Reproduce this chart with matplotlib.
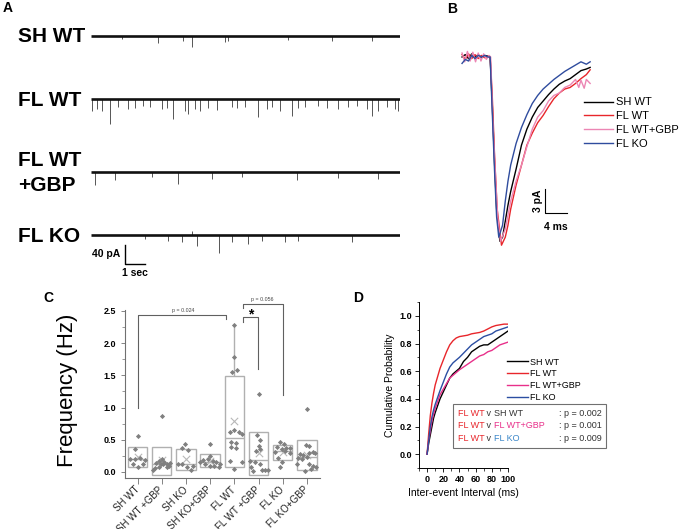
import numpy as np
import matplotlib
matplotlib.use("Agg")
import matplotlib.pyplot as plt
from matplotlib.offsetbox import TextArea, HPacker, VPacker, AnchoredOffsetbox

plt.rcParams['font.family'] = ['Liberation Sans', 'DejaVu Sans']

W, H = 688, 529

# ---------------- data ----------------
# panel A: event times (s) and amplitudes (pA)
trace_names = ['SH WT', 'FL WT', 'FL WT\n+GBP', 'FL KO']
sh_wt_t = [1.53, 3.37, 4.62, 5.03, 6.7, 6.87, 9.87, 12.03, 14.03]
sh_wt_amp = [7, 14, 9.8, 22.5, 11.9, 9.8, 8.4, 9.8, 9.8]
fl_wt_t = [0.03, 0.28, 0.53, 0.95, 1.37, 1.87, 2.2, 2.62, 2.95, 3.53, 3.78, 4.12, 4.7,
           4.87, 5.2, 5.45, 5.87, 6.28, 7.03, 7.28, 7.7, 8.37, 8.78, 9.03, 9.45, 10.03,
           10.37, 10.7, 11.37, 11.78, 12.37, 12.87, 13.28, 13.78, 14.03, 14.37, 14.78,
           15.2, 15.37]
fl_wt_amp = [24.6, 21, 24.6, 52.6, 17.5, 21, 19.6, 15.4, 17.5, 21, 19.6, 42, 24.6,
             31.6, 21, 24.6, 19.6, 22.5, 17.5, 19.6, 17.5, 38.6, 21, 17.5, 24.6, 35,
             19.6, 17.5, 15.4, 19.6, 21, 17.5, 15.4, 21, 35, 24.6, 17.5, 21, 24.6]
fl_gbp_t = [0.2, 1.2, 3.03, 4.37, 6.03, 7.53, 10.28, 12.37, 14.37]
fl_gbp_amp = [28, 16.8, 9.8, 24.6, 14, 9.8, 16.8, 11.9, 15.4]
fl_ko_t = [2.7, 3.87, 4.53, 5.03, 5.28, 6.4, 7.03, 7.87, 8.53, 9.7, 10.37, 13.03]
fl_ko_amp = [8.4, 11.9, 15.4, -9.1, 22.5, 38.6, 15.4, 19, 11.9, 15.4, 11.9, 15.4]
trace_events = [(sh_wt_t, sh_wt_amp), (fl_wt_t, fl_wt_amp),
                (fl_gbp_t, fl_gbp_amp), (fl_ko_t, fl_ko_amp)]

# panel B: averaged events (ms, pA)
b_sh_t = [0, 0.6, 1.2, 1.8, 2.4, 3.0, 3.6, 4.2, 4.8, 5.2, 5.6, 6.0, 6.4, 7.0, 7.5, 8, 8.5, 9,
          10, 11, 12, 13, 14, 15, 16, 17, 18, 19, 20, 21, 22, 23, 23.7]
b_sh = [0, 0.3, -0.2, 0.4, 0, 0.3, -0.1, 0.2, 0.1, 0, -6, -13, -19, -23, -22.5, -20.5, -18.5,
        -16.8, -14, -11, -9, -7.5, -6.3, -5.5, -4.7, -4.0, -3.4, -3.0, -2.7, -2.2, -1.7,
        -1.5, -1.3]
b_fl_t = [0, 0.6, 1.2, 1.8, 2.4, 3.0, 3.6, 4.2, 4.8, 5.2, 5.6, 6.0, 6.5, 7.3, 8, 8.5, 9, 10,
          11, 12, 13, 14, 15, 16, 17, 18, 19, 20, 21, 22, 23, 23.7]
b_fl = [0.3, -0.3, 0.4, -0.2, 0.3, -0.2, 0.2, -0.1, 0.1, 0, -5, -12, -19, -23.5, -22.5, -21,
        -19, -16, -13.5, -11, -9.5, -8.2, -7.3, -6.2, -5.2, -4.5, -4.0, -3.8, -3.3, -2.7,
        -2.2, -1.6]
b_gbp_t = [0, 0.5, 1.0, 1.5, 2.0, 2.5, 3.0, 3.5, 4.0, 4.5, 5.0, 5.3, 5.7, 6.2, 6.6, 7.1, 8, 9,
           10, 11, 12, 13, 14, 15, 16, 17, 18, 19, 20, 21, 21.6, 22, 22.6, 23, 23.7]
b_gbp = [0.5, -0.6, 0.7, -0.5, 0.6, -0.6, 0.5, -0.5, 0.4, -0.3, 0.2, 0, -8, -15, -20, -23,
         -21.5, -18, -15.5, -13.5, -11.2, -9, -7.5, -6.7, -5.5, -4.8, -4.5, -3.8, -3.5, -2.8,
         -3.8, -2.9, -3.9, -2.8, -3.3]
b_ko_t = [0, 0.6, 1.2, 1.8, 2.4, 3.0, 3.6, 4.2, 4.8, 5.2, 5.6, 6.0, 6.4, 6.8, 7.5, 8, 8.5, 9,
          10, 11, 12, 13, 14, 15, 16, 17, 18, 19, 20, 21, 22, 23, 23.7]
b_ko = [-0.8, -0.3, -0.5, 0.2, -0.2, 0.2, 0, 0.2, 0, 0, -7, -14, -20, -22.5, -21, -18, -15.5,
        -13.5, -10.8, -8.8, -7.2, -5.8, -4.8, -4.0, -3.4, -2.8, -2.3, -1.8, -1.4, -1.0, -0.6,
        -0.9, -0.6]

# panel C: frequency (Hz)
groups = ['SH WT', 'SH WT +GBP', 'SH KO', 'SH KO+GBP', 'FL WT', 'FL WT +GBP', 'FL KO', 'FL KO+GBP']
freq = [
    [0.56, 0.35, 0.20, 0.20, 0.21, 0.19, 0.13, 0.12, 0.07],
    [0.87, 0.2, 0.17, 0.16, 0.14, 0.13, 0.12, 0.12, 0.1, 0.08, 0.07, 0.06, 0.03, 0.14],
    [0.44, 0.37, 0.34, 0.13, 0.13, 0.07, 0.03, 0.09],
    [0.43, 0.25, 0.2, 0.18, 0.17, 0.16, 0.15, 0.13, 0.1, 0.09, 0.08, 0.12],
    [2.28, 1.78, 1.58, 1.55, 0.65, 0.62, 0.62, 0.59, 0.46, 0.45, 0.38, 0.37, 0.17, 0.15, 0.04],
    [1.21, 0.57, 0.49, 0.41, 0.36, 0.33, 0.17, 0.15, 0.12, 0.07, 0.03, 0.03, 0.03, 0.02],
    [0.46, 0.44, 0.38, 0.37, 0.37, 0.36, 0.33, 0.31, 0.30, 0.22, 0.15, 0.08],
    [0.98, 0.42, 0.40, 0.31, 0.30, 0.29, 0.28, 0.26, 0.24, 0.21, 0.20, 0.13, 0.12, 0.10, 0.07,
     0.04, 0.02],
]
jitter = [
    [0, -0.1, -0.3, -0.1, 0.12, 0.32, -0.2, 0.22, 0.0],
    [0, 0, -0.12, 0.1, -0.25, 0.05, 0.2, -0.05, 0.3, 0.22, -0.1, -0.3, -0.38, 0.36],
    [-0.03, -0.15, 0.1, -0.35, -0.15, 0.05, 0.2, 0.3],
    [0, 0, -0.1, -0.3, 0.12, 0.25, -0.4, -0.2, 0.0, 0.15, 0.35, 0.4],
    [0, 0, 0.1, -0.1, 0, -0.2, 0.2, 0.33, -0.15, 0.05, -0.15, 0.05, -0.2, 0.3, 0],
    [0, -0.05, 0.05, 0, 0.05, -0.12, -0.35, -0.15, 0.08, -0.3, 0.15, 0.27, 0.38, -0.25],
    [-0.1, 0.05, -0.25, 0.15, 0.3, -0.05, 0.1, -0.3, 0.3, -0.2, -0.02, -0.1],
    [0, -0.05, 0.1, 0.25, 0.1, 0.35, -0.3, -0.15, 0.0, -0.35, -0.2, -0.4, 0.08, 0.25, 0.38,
     0.15, -0.1],
]
box_lo = [0.07, -0.05, 0.03, 0.08, 0.08, -0.04, 0.18, 0.03]
box_hi = [0.385, 0.385, 0.355, 0.275, 1.485, 0.62, 0.42, 0.5]
box_med = [0.2, 0.13, 0.12, 0.16, 0.535, 0.18, 0.33, 0.235]
box_mean = [0.23, 0.18, 0.2, 0.17, 0.79, 0.29, 0.31, 0.27]

# panel D: cumulative probability vs inter-event interval (ms)
d_t = [0, 2, 4, 6, 8, 10, 13, 16, 20, 24, 28, 32, 36, 40, 45, 50, 55, 60, 65, 70, 75, 80,
       85, 90, 95, 100]
d_sh = [0, 0.08, 0.14, 0.2, 0.26, 0.3, 0.35, 0.40, 0.45, 0.50, 0.55, 0.58, 0.60, 0.62, 0.67,
        0.70, 0.74, 0.76, 0.78, 0.79, 0.79, 0.81, 0.83, 0.85, 0.87, 0.89]
d_fl = [0, 0.15, 0.28, 0.37, 0.44, 0.50, 0.56, 0.62, 0.68, 0.74, 0.79, 0.82, 0.84, 0.85, 0.855,
        0.86, 0.87, 0.875, 0.88, 0.89, 0.905, 0.92, 0.93, 0.935, 0.94, 0.94]
d_gbp = [0, 0.1, 0.17, 0.24, 0.29, 0.33, 0.38, 0.43, 0.47, 0.51, 0.55, 0.57, 0.59, 0.61, 0.63,
         0.65, 0.67, 0.69, 0.71, 0.72, 0.74, 0.75, 0.77, 0.79, 0.80, 0.81]
d_ko = [0, 0.1, 0.2, 0.27, 0.32, 0.36, 0.41, 0.46, 0.52, 0.58, 0.63, 0.66, 0.68, 0.70, 0.73,
        0.76, 0.79, 0.81, 0.83, 0.85, 0.86, 0.87, 0.89, 0.90, 0.91, 0.92]
p_rows = [
    ([('FL WT', '#e8262b'), (' v ', '#333333'), ('SH WT', '#333333')], ': p = 0.002'),
    ([('FL WT', '#e8262b'), (' v ', '#333333'), ('FL WT+GBP', '#e8308a')], ': p = 0.001'),
    ([('FL WT', '#e8262b'), (' v ', '#333333'), ('FL KO', '#3a86c8')], ': p = 0.009'),
]


def rect(x0, y0, x1, y1):
    return [x0 / W, 1 - y1 / H, (x1 - x0) / W, (y1 - y0) / H]


fig = plt.figure(figsize=(W / 100, H / 100), dpi=100)

# panel letters
for letter, x, y in [('A', 3, 8), ('B', 447, 9), ('C', 43, 298), ('D', 353, 298)]:
    fig.text(x / W, 1 - y / H, letter, fontsize=10, fontweight='bold', va='center')

# ---------------- panel A ----------------
bases = [36, 99, 172, 235]
px_per_pa = 0.475
for name, base, (ev_t, ev_a) in zip(trace_names, bases, trace_events):
    ax = fig.add_axes(rect(91, base - 20, 400, base + 40))
    ax.set_xlim(0, 15.45)
    ax.set_ylim(-40 / px_per_pa, 20 / px_per_pa)
    ax.axis('off')
    ax.vlines(ev_t, 0, -np.array(ev_a), color='#555555', lw=0.7)
    ax.plot([0, 15.45], [0, 0], color='#111111', lw=1.9, solid_capstyle='butt')
    fig.text(18 / W, 1 - (base + 1) / H, name, fontsize=15, fontweight='bold',
             va='center', linespacing=1.45)
    if name == 'FL KO':
        # scale bar 40 pA / 1 sec
        ax.plot([1.7, 1.7, 2.7], [-21, -61, -61], color='black', lw=1, clip_on=False)
        ax.text(1.45, -40, '40 pA', ha='right', va='center', fontsize=7.5, fontweight='bold')
        ax.text(2.2, -69, '1 sec', ha='center', va='top', fontsize=7.5, fontweight='bold',
                clip_on=False)

# ---------------- panel B ----------------
axb = fig.add_axes(rect(455, 45, 595, 250))
axb.set_xlim(-1.3, 24.6)
axb.set_ylim(-24.1, 1.5)
axb.axis('off')
axb.plot(b_sh_t, b_sh, color='black', lw=1, label='SH WT')
axb.plot(b_fl_t, b_fl, color='#e8262b', lw=1, label='FL WT')
axb.plot(b_gbp_t, b_gbp, color='#ec86b4', lw=1, label='FL WT+GBP')
axb.plot(b_ko_t, b_ko, color='#2f4c9e', lw=1, label='FL KO')
axb.plot([15.4, 15.4, 19.4], [-16.5, -19.5, -19.5], color='black', lw=0.8)
axb.text(14.9, -18, '3 pA', rotation=90, ha='right', va='center', fontsize=7.5,
         fontweight='bold')
axb.text(17.4, -20.6, '4 ms', ha='center', va='top', fontsize=7.5, fontweight='bold')
fig.legend(*axb.get_legend_handles_labels(), loc='upper left',
           bbox_to_anchor=(580 / W, 1 - 93 / H), frameon=False, fontsize=8,
           handlelength=2.6, handletextpad=0.2, labelspacing=0.35, borderaxespad=0)

# ---------------- panel C ----------------
axc = fig.add_axes(rect(125, 309.7, 320, 478.4))
pos = np.arange(1, len(groups) + 1)
grey = '#b0b0b0'
axc.bar(pos, np.array(box_hi) - np.array(box_lo), bottom=box_lo, width=0.8, fill=False,
        edgecolor=grey, lw=1, zorder=2)
axc.hlines(box_med, pos - 0.4, pos + 0.4, color=grey, lw=1, zorder=2)
axc.vlines(pos[4], box_hi[4], max(freq[4]), color=grey, lw=1, zorder=2)
axc.scatter(pos, box_mean, marker='x', s=28, color='#b8b8b8', lw=0.8, zorder=3)
for i in range(len(groups)):
    axc.scatter(pos[i] + np.array(jitter[i]), freq[i], marker='D', s=7, color='#808080',
                lw=0, zorder=4)
axc.set_xlim(0.48, 8.54)
axc.set_ylim(-0.1, 2.52)
axc.set_yticks([0, 0.5, 1.0, 1.5, 2.0, 2.5])
axc.set_yticks(np.arange(0, 2.6, 0.25), minor=True)
axc.yaxis.set_major_formatter(plt.FuncFormatter(lambda v, _: f'{v:.1f}'))
axc.set_xticks(pos)
axc.set_xticklabels(groups, rotation=45, ha='right', va='center', rotation_mode='anchor',
                    fontsize=7, color='#222222')
for lab in axc.get_yticklabels():
    lab.set_fontweight('bold')
axc.tick_params(axis='y', labelsize=6.5, length=3, width=0.6, color='#707070')
axc.tick_params(axis='y', which='minor', length=2, width=0.5, color='#707070')
axc.tick_params(axis='x', length=4, width=0.6, color='#707070', pad=3)
for s in ['top', 'right']:
    axc.spines[s].set_visible(False)
for s in ['left', 'bottom']:
    axc.spines[s].set_color('#707070')
    axc.spines[s].set_linewidth(0.8)
fig.text(68 / W, 1 - 390 / H, 'Frequency (Hz)', rotation=90, fontsize=16, ha='center',
         va='center')
# significance brackets
bk = dict(color='#606060', lw=0.8, clip_on=False)
axc.plot([1.02, 1.02, 4.66, 4.66], [0.99, 2.44, 2.44, 2.38], **bk)
axc.plot([5.36, 5.36, 7.0, 7.0], [2.55, 2.61, 2.61, 1.2], **bk)
axc.plot([5.36, 5.36, 5.98, 5.98], [2.33, 2.41, 2.41, 1.6], **bk)
axc.text(2.88, 2.5, 'p = 0.024', fontsize=3.8, ha='center', va='center', color='#444444')
axc.text(6.14, 2.68, 'p = 0.056', fontsize=3.8, ha='center', va='center', color='#444444')
axc.text(5.69, 2.44, '*', fontsize=10, ha='center', va='center', fontweight='bold')

# ---------------- panel D ----------------
axd = fig.add_axes(rect(419, 302, 508, 468))
axd.plot(d_t, d_sh, color='black', lw=1, label='SH WT')
axd.plot(d_t, d_fl, color='#e8262b', lw=1, label='FL WT')
axd.plot(d_t, d_gbp, color='#e8308a', lw=1, label='FL WT+GBP')
axd.plot(d_t, d_ko, color='#2b4ea2', lw=1, label='FL KO')
axd.set_xlim(-10, 100)
axd.set_ylim(-0.1, 1.1)
axd.set_xticks(np.arange(0, 101, 20))
axd.set_xticks(np.arange(-10, 101, 10), minor=True)
axd.set_yticks(np.arange(0, 1.01, 0.2))
axd.set_yticks(np.arange(-0.1, 1.11, 0.1), minor=True)
axd.yaxis.set_major_formatter(plt.FuncFormatter(lambda v, _: f'{v:.1f}'))
axd.tick_params(labelsize=6.5, length=3, width=0.6, pad=2)
axd.tick_params(which='minor', length=1.8, width=0.5)
for lab in axd.get_xticklabels() + axd.get_yticklabels():
    lab.set_fontweight('bold')
for s in ['top', 'right']:
    axd.spines[s].set_visible(False)
for s in ['left', 'bottom']:
    axd.spines[s].set_linewidth(0.7)
axd.set_xlabel('Inter-event Interval (ms)', fontsize=7.5, labelpad=3)
axd.set_ylabel('Cumulative Probability', fontsize=7.5, labelpad=3)
fig.legend(*axd.get_legend_handles_labels(), loc='upper left',
           bbox_to_anchor=(503 / W, 1 - 354 / H), frameon=False, fontsize=6.5,
           handlelength=2.4, handletextpad=0.15, labelspacing=0.3, borderaxespad=0)

left_rows = []
for pieces, _ in p_rows:
    left_rows.append(HPacker(children=[TextArea(t, textprops=dict(color=c, fontsize=6.5))
                                       for t, c in pieces], sep=0, pad=0))
right_rows = [TextArea(r, textprops=dict(color='#333333', fontsize=6.5)) for _, r in p_rows]
pbox = HPacker(children=[VPacker(children=left_rows, sep=2.5, pad=0, align='left'),
                         VPacker(children=right_rows, sep=2.5, pad=0, align='left')],
               sep=10, pad=0)
anch = AnchoredOffsetbox(loc='upper left', child=pbox, pad=0.35, borderpad=0, frameon=True,
                         bbox_to_anchor=(453 / W, 1 - 404 / H), bbox_transform=fig.transFigure)
anch.patch.set_edgecolor('#707070')
anch.patch.set_linewidth(0.8)
axd.add_artist(anch)

fig.savefig('out.png', dpi=100)
